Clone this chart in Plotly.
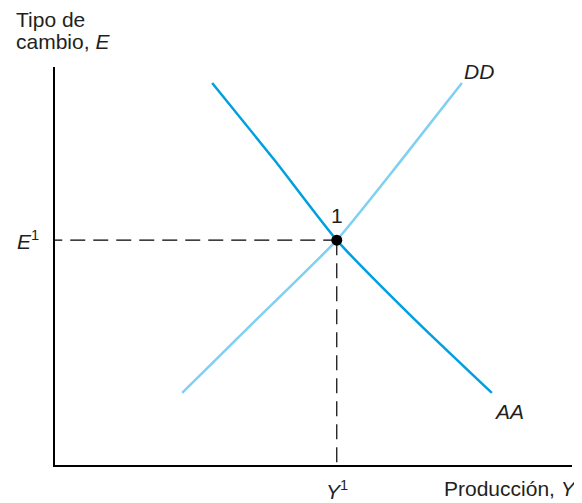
import plotly.graph_objects as go

# curve AA
aa_x = [3.04, 4.26, 5.45, 6.93, 8.45]
aa_y = [9.60, 7.64, 5.65, 3.69, 1.81]

# curve DD
dd_x = [2.46, 3.87, 5.45, 6.67, 7.87]
dd_y = [1.81, 3.62, 5.65, 7.61, 9.60]

# equilibrium point 1
eq_x = 5.45
eq_y = 5.65

FONT = "Liberation Sans, Arial, sans-serif"
AA_COLOR = "#00a0df"
DD_COLOR = "#7fd0f2"
FS = 21

fig = go.Figure()

# dashed guides
fig.add_trace(go.Scatter(
    x=[-0.15, eq_x], y=[eq_y, eq_y], mode="lines",
    line=dict(color="black", width=1.2, dash="15px,8px"),
    cliponaxis=False, hoverinfo="skip",
))
fig.add_trace(go.Scatter(
    x=[eq_x, eq_x], y=[eq_y, -0.33], mode="lines",
    line=dict(color="black", width=1.2, dash="15px,8px"),
    cliponaxis=False, hoverinfo="skip",
))

fig.add_trace(go.Scatter(
    x=dd_x, y=dd_y, mode="lines",
    line=dict(color=DD_COLOR, width=2.5, shape="spline", smoothing=0.5),
))
fig.add_trace(go.Scatter(
    x=aa_x, y=aa_y, mode="lines",
    line=dict(color=AA_COLOR, width=2.5, shape="spline", smoothing=0.5),
))
fig.add_trace(go.Scatter(
    x=[eq_x], y=[eq_y], mode="markers",
    marker=dict(color="black", size=11),
    cliponaxis=False,
))

ann = [
    dict(x=0, y=1, xref="paper", yref="paper", xshift=-41, yshift=34,
         text="Tipo de", xanchor="left", yanchor="bottom"),
    dict(x=0, y=1, xref="paper", yref="paper", xshift=-41, yshift=12,
         text="cambio, <i>E</i>", xanchor="left", yanchor="bottom"),
    dict(x=0, y=eq_y, xref="paper", xshift=-14, text="<i>E</i><sup>1</sup>",
         xanchor="right", yanchor="middle"),
    dict(x=eq_x, y=eq_y, yshift=11, text="1", xanchor="center", yanchor="bottom"),
    dict(x=dd_x[-1], y=dd_y[-1], xshift=0, yshift=-2, text="<i>DD</i>",
         xanchor="left", yanchor="bottom"),
    dict(x=aa_x[-1], y=aa_y[-1], xshift=0, yshift=-5, text="<i>AA</i>",
         xanchor="left", yanchor="top"),
    dict(x=eq_x, y=0, yshift=-10, text="<i>Y</i><sup>1</sup>", xanchor="center",
         yanchor="top"),
    dict(x=1, y=0, xref="x domain", yshift=-10, xshift=7, text="Producción, <i>Y</i>",
         xanchor="right", yanchor="top"),
]
for a in ann:
    a["showarrow"] = False
    a["font"] = dict(size=FS)
    a.setdefault("xref", "x")
    a.setdefault("yref", "y")

# page body has an 8px margin, so the figure is sized to fit inside it
fig.update_layout(
    width=574, height=495,
    margin=dict(l=47, r=10, t=59, b=38),
    paper_bgcolor="white", plot_bgcolor="white",
    showlegend=False,
    font=dict(family=FONT, color="#231f20"),
    annotations=ann,
    xaxis=dict(range=[0, 10], showgrid=False, zeroline=False, showticklabels=False,
               ticks="", showline=True, linecolor="black", linewidth=2),
    yaxis=dict(range=[0, 10], showgrid=False, zeroline=False, showticklabels=False,
               ticks="", showline=True, linecolor="black", linewidth=2),
)

fig.write_html("out.html")
